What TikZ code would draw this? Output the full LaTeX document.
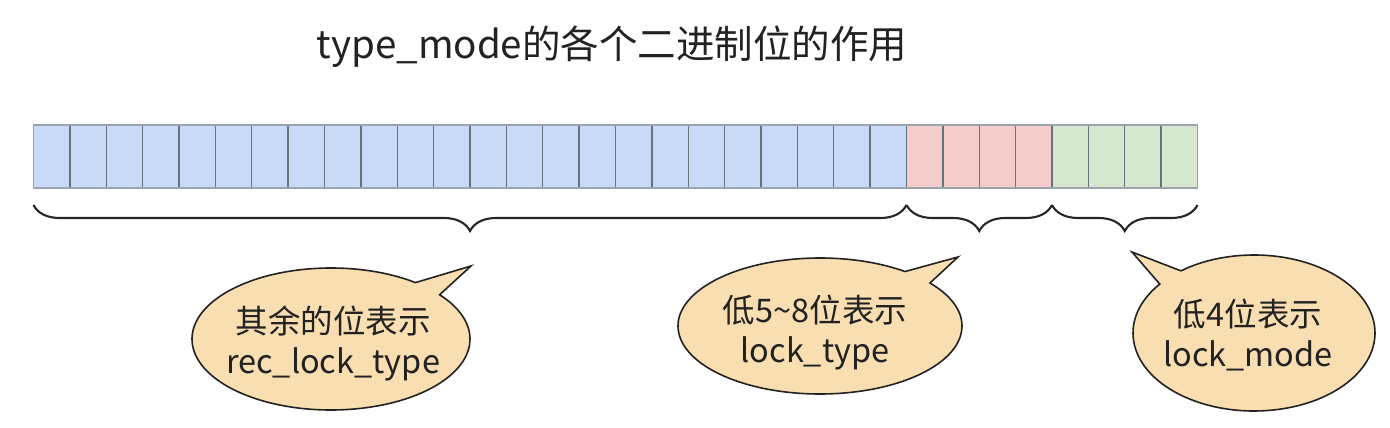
\documentclass[tikz,border=0pt]{standalone}
\usepackage{fontspec}
\setmainfont{Noto Sans CJK SC}
\usetikzlibrary{shapes.callouts,decorations.pathreplacing}
\definecolor{cellblue}{HTML}{C9DAF8}
\definecolor{cellred}{HTML}{F4CDCB}
\definecolor{cellgreen}{HTML}{D6E7CF}
\definecolor{cellline}{HTML}{66727E}
\definecolor{outerline}{HTML}{9AA4AC}
\definecolor{bubblefill}{HTML}{F8DEB0}
\definecolor{inkdark}{HTML}{222222}
\begin{document}
\begin{tikzpicture}[x=1pt,y=-1pt,
  cell/.style={draw=cellline, line width=1.4pt, minimum width=36.375pt, minimum height=63pt, inner sep=0pt, outer sep=0pt},
  titletext/.style={font=\fontsize{38.5}{46}\selectfont, text=inkdark, inner sep=0pt},
  bubble/.style={ellipse callout, draw=inkdark, line width=1.6pt, fill=bubblefill, inner sep=0pt, callout pointer arc=14},
  bubbletext/.style={inner sep=0pt, align=center, text=inkdark, font=\fontsize{32.5}{40}\selectfont},
  bracestyle/.style={draw=black!85, line width=2.1pt, decorate, decoration={brace, amplitude=26pt, mirror}}
]
\useasboundingbox (0,0) rectangle (1390,428);
\node[titletext, anchor=base] (title) at (612,59) {type\_mode的各个二进制位的作用};
% cells
\foreach \i in {0,...,31}{
  \pgfmathsetmacro{\cx}{33.5+36.375*(\i+0.5)}
  \ifnum\i<24 \def\cc{cellblue}\else\ifnum\i<28 \def\cc{cellred}\else\def\cc{cellgreen}\fi\fi
  \node[cell, fill=\cc] (c\i) at (\cx,156.5) {};
}
\draw[outerline, line width=1.4pt] (c0.north west) rectangle (c31.south east);
% brace anchors
\coordinate (b1s) at (c0.south west |- 0,205);
\coordinate (b1e) at (c23.south east |- 0,205);
\coordinate (b2e) at (c27.south east |- 0,205);
\coordinate (b3e) at (c31.south east |- 0,205);
\draw[bracestyle] (b1s) -- (b1e);
\draw[bracestyle] (b1e) -- (b2e);
\draw[bracestyle] (b2e) -- (b3e);
% pointer targets
\coordinate (p1) at (471,266);
\coordinate (p2) at (958,257);
\coordinate (p3) at (1132,252);
\node[bubble, minimum width=278pt, minimum height=142pt, callout absolute pointer={(p1)}] (bub1) at (331,339) {};
\node[bubble, minimum width=284pt, minimum height=136pt, callout absolute pointer={(p2)}] (bub2) at (820,326) {};
\node[bubble, minimum width=242pt, minimum height=156pt, callout absolute pointer={(p3)}] (bub3) at (1254,333) {};
\node[bubbletext] (t1) at (333,343) {其余的位表示\\rec\_lock\_type};
\node[bubbletext] (t2) at (815,333) {低5\textasciitilde 8位表示\\lock\_type};
\node[bubbletext] (t3) at (1248,335) {低4位表示\\lock\_mode};
\end{tikzpicture}
\end{document}
